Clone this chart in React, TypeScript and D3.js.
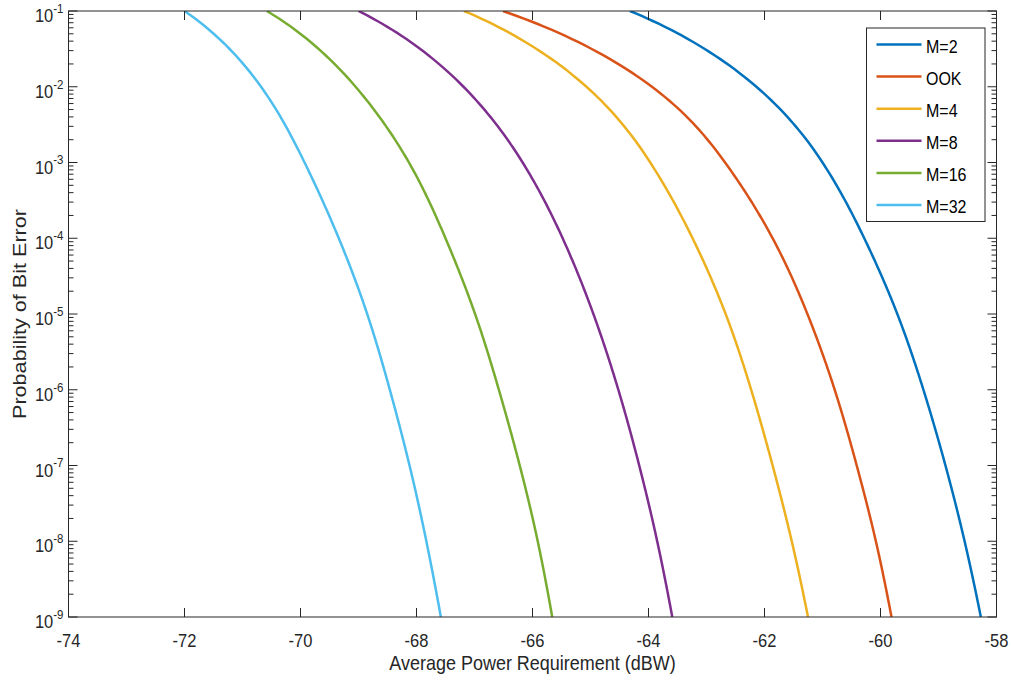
import React from "react";
import * as d3 from "d3";

// Bit error probability levels (one per decade) at which each curve is sampled
const berLevels = [1e-1, 1e-2, 1e-3, 1e-4, 1e-5, 1e-6, 1e-7, 1e-8, 1e-9];

// Average power requirement (dBW) needed to reach each BER level
const m2 = [-64.32, -62.14, -61.0, -60.28, -59.71, -59.26, -58.88, -58.55, -58.27];
const ook = [-66.51, -63.94, -62.68, -61.86, -61.26, -60.79, -60.41, -60.08, -59.81];
const m4 = [-67.18, -65.07, -63.97, -63.24, -62.67, -62.23, -61.86, -61.53, -61.25];
const m8 = [-69.0, -67.19, -66.17, -65.48, -64.95, -64.52, -64.16, -63.85, -63.59];
const m16 = [-70.58, -69.05, -68.13, -67.5, -66.99, -66.58, -66.22, -65.91, -65.66];
const m32 = [-72.0, -70.68, -69.93, -69.34, -68.85, -68.46, -68.12, -67.83, -67.58];

const seriesNames = ["M=2", "OOK", "M=4", "M=8", "M=16", "M=32"];
const seriesColors = ["#0072BD", "#D95319", "#EDB120", "#7E2F8E", "#77AC30", "#4DBEEE"];
const seriesValues = [m2, ook, m4, m8, m16, m32];

const xTicks = [-74, -72, -70, -68, -66, -64, -62, -60, -58];
const yExponents = [-1, -2, -3, -4, -5, -6, -7, -8, -9];

const W = 1011;
const H = 687;
const left = 68.5;
const right = 996.5;
const top = 11;
const bottom = 617;

const axisColor = "#262626";
const font = "'Liberation Sans', Arial, Helvetica, sans-serif";

// Power vs BER is close to linear in u = log10(-ln BER), so the spline is
// fitted in that space and then mapped back onto the log axis.
const toU = (b: number) => Math.log10(-Math.log(b));
const fromU = (u: number) => Math.exp(-Math.pow(10, u));

function smoothCurve(
  powers: number[],
  x: d3.ScaleLinear<number, number>,
  y: d3.ScaleLogarithmic<number, number>
): [number, number][] {
  const pts: [number, number][] = [];
  let cx = 0;
  let cy = 0;
  const steps = 24;
  const recorder = {
    moveTo(px: number, py: number) {
      pts.push([px, py]);
      cx = px;
      cy = py;
    },
    lineTo(px: number, py: number) {
      pts.push([px, py]);
      cx = px;
      cy = py;
    },
    bezierCurveTo(x1: number, y1: number, x2: number, y2: number, px: number, py: number) {
      for (let s = 1; s <= steps; s++) {
        const t = s / steps;
        const a = (1 - t) * (1 - t) * (1 - t);
        const b = 3 * (1 - t) * (1 - t) * t;
        const c = 3 * (1 - t) * t * t;
        const d = t * t * t;
        pts.push([a * cx + b * x1 + c * x2 + d * px, a * cy + b * y1 + c * y2 + d * py]);
      }
      cx = px;
      cy = py;
    },
    closePath() {},
  };
  const gen = d3
    .line<[number, number]>()
    .x((d) => d[0])
    .y((d) => d[1])
    .curve(d3.curveNatural)
    .context(recorder as unknown as CanvasRenderingContext2D);
  gen(powers.map((p, j) => [toU(berLevels[j]), p] as [number, number]));
  return pts.map(([u, p]) => [x(p), y(fromU(u))] as [number, number]);
}

export default function App() {
  const x = d3.scaleLinear().domain([-74, -58]).range([left, right]);
  const y = d3.scaleLog().domain([1e-9, 1e-1]).range([bottom, top]);

  const screenLine = d3.line<[number, number]>();

  // minor ticks 2..9 within each decade
  const minor: number[] = [];
  for (let e = -9; e < -1; e++) {
    for (let k = 2; k <= 9; k++) minor.push(k * Math.pow(10, e));
  }

  const sy = 1.15;

  return (
    <svg
      width={W}
      height={H}
      style={{ position: "absolute", left: 0, top: 0, background: "#fff" }}
    >
      <defs>
        <clipPath id="plotClip">
          <rect x={left} y={top} width={right - left} height={bottom - top} />
        </clipPath>
      </defs>
      <rect x={0} y={0} width={W} height={H} fill="#fff" />

      {/* curves */}
      <g clipPath="url(#plotClip)">
        {seriesValues.map((vals, i) => (
          <path
            key={seriesNames[i]}
            d={screenLine(smoothCurve(vals, x, y)) || ""}
            fill="none"
            stroke={seriesColors[i]}
            strokeWidth={2.5}
            strokeLinejoin="round"
          />
        ))}
      </g>

      {/* axes box */}
      <rect
        x={left}
        y={top}
        width={right - left}
        height={bottom - top}
        fill="none"
        stroke={axisColor}
        strokeWidth={1}
      />

      {/* x ticks (bottom and top, inward) */}
      {xTicks.map((t) => (
        <g key={"xt" + t}>
          <line x1={x(t)} x2={x(t)} y1={bottom} y2={bottom - 9} stroke={axisColor} />
          <line x1={x(t)} x2={x(t)} y1={top} y2={top + 9} stroke={axisColor} />
          <text
            transform={`translate(${x(t)},${bottom + 30}) scale(1,${sy})`}
            textAnchor="middle"
            fontFamily={font}
            fontSize={16.5}
            fill={axisColor}
          >
            {t}
          </text>
        </g>
      ))}

      {/* y major ticks */}
      {yExponents.map((e) => {
        const v = Math.pow(10, e);
        const yy = y(v);
        return (
          <g key={"yt" + e}>
            <line x1={left} x2={left + 9} y1={yy} y2={yy} stroke={axisColor} />
            <line x1={right} x2={right - 9} y1={yy} y2={yy} stroke={axisColor} />
            <text
              transform={`translate(${left - 5},${yy + 11}) scale(1,${sy})`}
              textAnchor="end"
              fontFamily={font}
              fontSize={16.5}
              fill={axisColor}
            >
              10
              <tspan fontSize={11.5} dy={-8}>
                {e}
              </tspan>
            </text>
          </g>
        );
      })}

      {/* y minor ticks */}
      {minor.map((v, i) => (
        <g key={"ym" + i}>
          <line x1={left} x2={left + 5} y1={y(v)} y2={y(v)} stroke={axisColor} />
          <line x1={right} x2={right - 5} y1={y(v)} y2={y(v)} stroke={axisColor} />
        </g>
      ))}

      {/* axis labels */}
      <text
        transform={`translate(${(left + right) / 2},670) scale(1,${sy})`}
        textAnchor="middle"
        fontFamily={font}
        fontSize={18}
        fill={axisColor}
      >
        Average Power Requirement (dBW)
      </text>
      <text
        transform={`translate(26, ${(top + bottom) / 2}) rotate(-90) scale(1.2,1)`}
        textAnchor="middle"
        fontFamily={font}
        fontSize={18}
        fill={axisColor}
      >
        Probability of Bit Error
      </text>

      {/* legend */}
      <g>
        <rect x={866.5} y={28} width={118.5} height={193.5} fill="#fff" stroke={axisColor} strokeWidth={1} />
        {seriesNames.map((name, i) => {
          const ly = 44.5 + i * 32.1;
          return (
            <g key={"lg" + name}>
              <line x1={876.5} x2={921.5} y1={ly} y2={ly} stroke={seriesColors[i]} strokeWidth={2.5} />
              <text
                transform={`translate(926,${ly + 8}) scale(1,1.2)`}
                fontFamily={font}
                fontSize={16}
                fill="#000"
              >
                {name}
              </text>
            </g>
          );
        })}
      </g>
    </svg>
  );
}
